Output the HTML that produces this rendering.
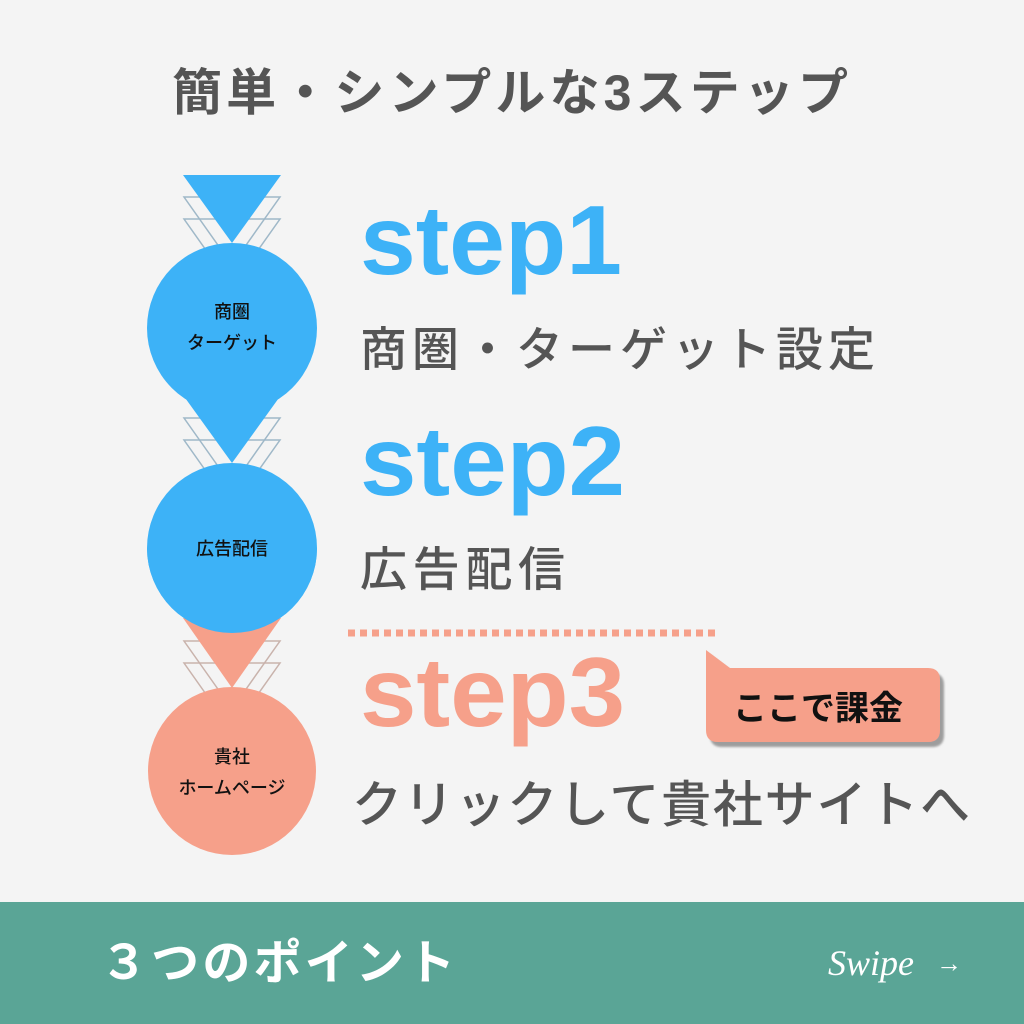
<!DOCTYPE html>
<html><head><meta charset="utf-8"><style>
html,body{margin:0;padding:0;background:#f4f4f4}
svg{display:block}
</style></head><body>
<svg width="1024" height="1024" viewBox="0 0 1024 1024" xmlns="http://www.w3.org/2000/svg">
<rect width="1024" height="1024" fill="#f4f4f4"/>
<defs>
<filter id="sh" x="-10%" y="-10%" width="130%" height="140%"><feDropShadow dx="4" dy="5" stdDeviation="1" flood-color="#888" flood-opacity="0.8"/></filter>
</defs>
<g font-family="'Liberation Sans','Noto Sans CJK JP',sans-serif">
<text x="172" y="110" font-size="50" font-weight="bold" fill="#555" textLength="676" lengthAdjust="spacing">簡単・シンプルな3ステップ</text>

<g fill="none" stroke="#9fb8c8" stroke-width="1.5">
<path d="M184 197 L280 197 L232 265 Z"/><path d="M184 219 L280 219 L232 287 Z"/>
</g>
<polygon points="183,175 281,175 232,243" fill="#3db2f7"/>
<circle cx="232" cy="328" r="85" fill="#3db2f7"/>

<g fill="none" stroke="#9fb8c8" stroke-width="1.5">
<path d="M184 418 L280 418 L232 486 Z"/><path d="M184 440 L280 440 L232 508 Z"/>
</g>
<polygon points="183,395 281,395 232,463" fill="#3db2f7"/>
<circle cx="232" cy="548" r="85" fill="#3db2f7"/>

<g fill="none" stroke="#c9b3ac" stroke-width="1.5">
<path d="M184 641 L280 641 L232 709 Z"/><path d="M184 663 L280 663 L232 731 Z"/>
</g>
<polygon points="183,618 281,618 232,688" fill="#f6a08a"/>
<path d="M147 548 A85 85 0 0 0 317 548 Z" fill="#3db2f7"/>
<circle cx="232" cy="771" r="84" fill="#f6a08a"/>

<g font-size="18" fill="#111" text-anchor="middle" font-weight="500">
<text x="232" y="318">商圏</text><text x="232" y="349">ターゲット</text>
<text x="232" y="555">広告配信</text>
<text x="232" y="763">貴社</text><text x="232" y="794">ホームページ</text>
</g>

<text x="360" y="274" font-size="98" font-weight="bold" fill="#3db2f7" textLength="262" lengthAdjust="spacingAndGlyphs">step1</text>
<text x="360" y="366" font-size="47" fill="#555" font-weight="500" textLength="515" lengthAdjust="spacing">商圏・ターゲット設定</text>
<text x="360" y="495" font-size="98" font-weight="bold" fill="#3db2f7" textLength="265" lengthAdjust="spacingAndGlyphs">step2</text>
<text x="360" y="586" font-size="47" fill="#555" font-weight="500" textLength="205" lengthAdjust="spacing">広告配信</text>

<line x1="348" y1="633" x2="716" y2="633" stroke="#f6a08a" stroke-width="7" stroke-dasharray="7 5"/>

<text x="360" y="726" font-size="98" font-weight="bold" fill="#f6a08a" textLength="265" lengthAdjust="spacingAndGlyphs">step3</text>

<path d="M706 650 L730 668 L928 668 Q940 668 940 680 L940 730 Q940 742 928 742 L718 742 Q706 742 706 730 Z" fill="#f6a08a" filter="url(#sh)"/>
<text x="818" y="720" text-anchor="middle" font-size="34" font-weight="bold" fill="#111">ここで課金</text>

<text x="352" y="822" font-size="50" fill="#555" font-weight="500" textLength="618" lengthAdjust="spacing">クリックして貴社サイトへ</text>

<rect x="0" y="902" width="1024" height="122" fill="#5aa596"/>
<text x="100" y="979" font-size="48" font-weight="bold" fill="#fff" textLength="355" lengthAdjust="spacing">３つのポイント</text>
<text x="828" y="975" font-size="36" font-style="italic" fill="#fff" font-family="'Liberation Serif',serif">Swipe</text>
<text x="936" y="972" font-size="26" fill="#fff">→</text>
</g>
</svg>
</body></html>
